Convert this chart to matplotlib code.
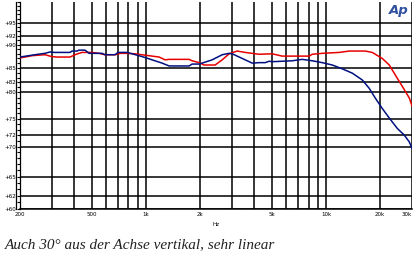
import numpy as np
import matplotlib
matplotlib.use('Agg')
import matplotlib.pyplot as plt
from matplotlib.ticker import FixedLocator, NullFormatter
from matplotlib.transforms import ScaledTranslation

# frequency response, 30 deg off axis (vertical)
f_blue = [200, 242, 275, 294, 310, 379, 389, 415, 425, 459, 484, 571, 593, 674,
          700, 786, 838, 952, 1082, 1230, 1345, 1737, 1805, 1975, 2052, 2332,
          2651, 2899, 3012, 3424, 3890, 4254, 4592, 4834, 5024, 6490, 7374,
          8381, 9524, 10824, 12302, 13978, 15887, 17375, 18756, 20512, 22440,
          24860, 27184, 28986, 30000]
db_blue = [87.3, 87.8, 88.1, 88.4, 88.3, 88.3, 88.6, 88.6, 88.8, 88.8, 88.1,
           88.1, 87.8, 87.8, 88.3, 88.3, 88.0, 87.4, 86.7, 86.0, 85.4, 85.4,
           85.8, 85.8, 86.0, 86.7, 87.8, 88.1, 88.0, 87.0, 86.0, 86.1, 86.1,
           86.4, 86.3, 86.5, 86.8, 86.5, 86.1, 85.6, 84.8, 83.9, 82.5, 80.8,
           78.9, 76.9, 75.1, 73.2, 72.0, 70.8, 69.7]

f_red = [200, 234, 275, 300, 320, 379, 410, 442, 502, 550, 593, 674, 720, 786,
         871, 990, 1184, 1278, 1345, 1737, 1805, 1975, 2104, 2423, 2651, 2899,
         3211, 3557, 4254, 5024, 5710, 6744, 8064, 8381, 9524, 11840, 13454,
         16508, 18050, 20512, 22440, 24245, 26509, 28986, 30000]
db_red = [87.1, 87.6, 87.8, 87.4, 87.3, 87.3, 87.9, 88.3, 88.3, 88.1, 87.8,
          87.8, 88.1, 88.1, 88.0, 87.7, 87.3, 86.7, 86.8, 86.8, 86.5, 86.1,
          85.6, 85.6, 86.7, 88.0, 88.6, 88.3, 87.9, 88.0, 87.5, 87.5, 87.5,
          87.9, 88.1, 88.3, 88.6, 88.6, 88.3, 87.0, 85.6, 83.5, 81.2, 78.9,
          77.4]

y_ticks = [60, 62, 65, 70, 72, 75, 80, 82, 85, 90, 92, 95]
x_grid = [300, 400, 500, 600, 700, 800, 900, 1000, 2000, 3000, 4000, 5000,
          6000, 7000, 8000, 9000, 10000, 20000, 30000]
x_ticks = [200, 500, 1000, 2000, 5000, 10000, 20000, 30000]
x_labels = ['200', '500', '1k', '2k', '5k', '10k', '20k', '30k']

W, H = 414, 254
fig = plt.figure(figsize=(W/100, H/100), dpi=100)
ax = fig.add_axes([20/W, 45/H, 392/W, 207/H])

ax.set_xscale('log')
ax.set_yscale('log')
ax.set_xlim(200, 30000)
ax.set_ylim(60, 100)

for x in x_grid:
    ax.axvline(x, color='black', lw=1.1, zorder=1)
for y in y_ticks:
    ax.axhline(y, color='black', lw=1.1, zorder=1)

ax.plot(f_red, db_red, color='#e80000', lw=1.1, zorder=3)
ax.plot(f_blue, db_blue, color='#001080', lw=1.1, zorder=3)

# axes / ticks
ax.xaxis.set_major_locator(FixedLocator(x_ticks))
ax.xaxis.set_minor_locator(FixedLocator([]))
ax.set_xticklabels(x_labels)
ax.xaxis.set_minor_formatter(NullFormatter())
ax.tick_params(axis='x', which='both', length=0, pad=2, labelsize=4)
ax.get_xticklabels()[-1].set_ha('right')

ax.yaxis.set_major_locator(FixedLocator(y_ticks))
ax.yaxis.set_minor_locator(FixedLocator(range(60, 101)))
ax.set_yticklabels(['+%d' % v for v in y_ticks])
ax.yaxis.set_minor_formatter(NullFormatter())
ax.tick_params(axis='y', which='both', direction='out', length=2.5,
               width=0.8, pad=0.6, labelsize=4)

for s in ['top', 'right']:
    ax.spines[s].set_visible(False)
ax.spines['left'].set_linewidth(0.9)
ax.spines['bottom'].set_linewidth(1.1)

# second rail of the left scale ladder
tr = ax.transAxes + ScaledTranslation(-3.5/100, 0, fig.dpi_scale_trans)
ax.plot([0, 0], [0, 1], color='black', lw=0.9, transform=tr, clip_on=False)

ax.set_xlabel('Hz', fontsize=4, labelpad=4)

fig.text(389/W, 1 - 4/H, 'Ap', color='#2f4f9f', fontsize=9.5,
         fontweight='bold', fontstyle='italic', va='top', ha='left')

fig.text(5/W, 6/H, 'Auch 30° aus der Achse vertikal, sehr linear',
         family='Liberation Serif', fontstyle='italic', fontsize=11,
         color='#222222', va='baseline', ha='left')

fig.savefig('out.png', dpi=100)
